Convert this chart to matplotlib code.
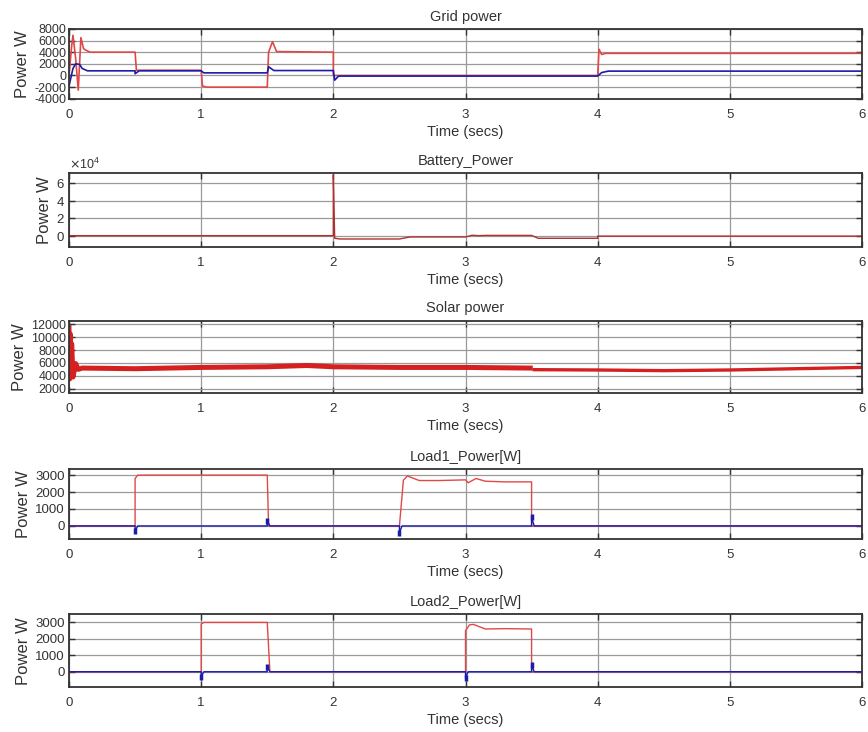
import matplotlib
matplotlib.use('Agg')
import matplotlib.pyplot as plt

plt.rcParams['font.family'] = ['Liberation Sans', 'DejaVu Sans']
plt.rcParams['axes.unicode_minus'] = False

# ---- data ----
grid_t_red = [0, 0.02, 0.03, 0.05, 0.07, 0.09, 0.11, 0.13, 0.16, 0.5, 0.51, 0.54, 1.0, 1.01, 1.04,
              1.5, 1.51, 1.54, 1.57, 2.0, 2.0, 4.0, 4.01, 4.03, 4.06, 6.0]
grid_p_red = [0, 5000, 6900, 3000, -2500, 6500, 4600, 4300, 4000, 4000, 900, 900, 900, -1800, -2000,
              -2000, 4000, 5800, 4100, 4000, 0, 0, 4500, 3600, 3800, 3800]
grid_t_blue = [0, 0.03, 0.05, 0.08, 0.1, 0.14, 0.5, 0.5, 0.53, 1.0, 1.02, 1.5, 1.51, 1.55,
               2.0, 2.01, 2.04, 4.0, 4.03, 4.08, 6.0]
grid_p_blue = [-1800, 1200, 2000, 1900, 1200, 800, 800, 300, 800, 800, 450, 450, 1500, 850,
               850, -800, -100, -100, 500, 750, 750]

batt_t = [0, 2.0, 2.0, 2.01, 2.05, 2.5, 2.58, 3.0, 3.05, 3.1, 3.15, 3.5, 3.55, 4.0, 4.0, 6.0]
batt_p = [0, 0, 70000, -3000, -3800, -3800, -1500, -1500, 500, 0, 300, 300, -3000, -3000, -500, -500]

solar_t_a = [0, 0.005, 0.01, 0.015, 0.02, 0.03, 0.05, 0.07, 0.1, 0.5, 1.0, 1.5, 1.8, 2.0, 2.5, 3.0, 3.49]
solar_p_a = [11500, 3500, 10500, 4200, 9000, 3800, 5900, 5000, 5200, 5100, 5300, 5400, 5600, 5400,
             5300, 5300, 5200]
solar_t_b = [3.52, 4.0, 4.5, 5.0, 5.5, 6.0]
solar_p_b = [4950, 4900, 4800, 4900, 5100, 5300]

load1_t_red = [0, 0.5, 0.5, 0.52, 1.5, 1.51, 2.5, 2.53, 2.56, 2.65, 2.8, 3.0, 3.02, 3.08, 3.15,
               3.3, 3.5, 3.5, 6.0]
load1_p_red = [0, 0, 2800, 3000, 3000, 0, 0, 2700, 2950, 2680, 2680, 2720, 2550, 2800, 2640,
               2600, 2600, 0, 0]
load1_t_blue = [0, 0.5, 0.5, 0.52, 1.5, 1.5, 1.52, 2.5, 2.5, 2.52, 3.5, 3.5, 3.52, 6.0]
load1_p_blue = [0, 0, -300, 0, 0, 300, 0, 0, -400, 0, 0, 500, 0, 0]

load2_t_red = [0, 1.0, 1.0, 1.02, 1.5, 1.52, 3.0, 3.0, 3.03, 3.06, 3.15, 3.3, 3.5, 3.5, 6.0]
load2_p_red = [0, 0, 2900, 3000, 3000, 0, 0, 2500, 2850, 2880, 2600, 2620, 2600, 0, 0]
load2_t_blue = [0, 1.0, 1.0, 1.02, 1.5, 1.5, 1.52, 3.0, 3.0, 3.02, 3.5, 3.5, 3.52, 6.0]
load2_p_blue = [0, 0, -300, 0, 0, 300, 0, 0, -400, 0, 0, 400, 0, 0]

RED = '#e04848'
DRED = '#d42020'
BLUE = '#1c1caa'
TXT = '#333333'

fig = plt.figure(figsize=(8.68, 7.32), dpi=100)
left, width = 0.0795, 0.9136
boxes = [(0.865, 0.0956), (0.662, 0.101), (0.463, 0.099), (0.263, 0.0965), (0.061, 0.0997)]
axes = [fig.add_axes([left, b, width, h]) for b, h in boxes]
titles = ['Grid power', 'Battery_Power', 'Solar power', 'Load1_Power[W]', 'Load2_Power[W]']

for ax, title in zip(axes, titles):
    ax.set_xlim(0, 6)
    ax.set_xticks(range(7))
    ax.set_title(title, fontsize=10.5, color=TXT, pad=6)
    ax.set_xlabel('Time (secs)', fontsize=10.5, color=TXT, labelpad=3)
    ax.set_ylabel('Power W', fontsize=12, color=TXT, labelpad=3)
    ax.grid(True, color='#9a9a9a', linewidth=0.9)
    ax.set_axisbelow(True)
    ax.tick_params(direction='in', top=True, right=True, labelsize=9.5,
                   colors=TXT, length=4, width=1)
    ax.tick_params(axis='x', pad=7)
    ax.tick_params(axis='y', pad=3)
    for s in ax.spines.values():
        s.set_color(TXT)
        s.set_linewidth(1.3)

# Grid power
ax = axes[0]
ax.plot(grid_t_red, grid_p_red, color=RED, linewidth=1.2)
ax.plot(grid_t_blue, grid_p_blue, color=BLUE, linewidth=1.2)
ax.set_ylim(-4000, 8000)
ax.set_yticks(range(-4000, 8001, 2000))
ax.tick_params(axis='y', labelsize=9, pad=2)

# Battery power
ax = axes[1]
ax.plot(batt_t, batt_p, color='#b03030', linewidth=1.0)
ax.set_ylim(-13500, 71500)
ax.set_yticks([0, 20000, 40000, 60000])
ax.ticklabel_format(axis='y', style='sci', scilimits=(4, 4), useMathText=True)
ax.yaxis.get_offset_text().set_fontsize(9)

# Solar power
ax = axes[2]
ax.plot(solar_t_a, solar_p_a, color=DRED, linewidth=3.6, solid_joinstyle='round')
ax.plot(solar_t_b, solar_p_b, color=DRED, linewidth=2.4)
ax.set_ylim(1300, 12600)
ax.set_yticks(range(2000, 12001, 2000))
ax.tick_params(axis='y', labelsize=9, pad=2)

# Loads
ax = axes[3]
ax.plot(load1_t_red, load1_p_red, color=RED, linewidth=1.0)
ax.plot(load1_t_blue, load1_p_blue, color=BLUE, linewidth=1.0)
ax.plot([t for t, p in zip(load1_t_blue, load1_p_blue) if p != 0],
        [p for p in load1_p_blue if p != 0], '|', color=BLUE, markersize=5, mew=2.5)
ax.set_ylim(-800, 3370)
ax.set_yticks([0, 1000, 2000, 3000])

ax = axes[4]
ax.plot(load2_t_red, load2_p_red, color=RED, linewidth=1.0)
ax.plot(load2_t_blue, load2_p_blue, color=BLUE, linewidth=1.0)
ax.plot([t for t, p in zip(load2_t_blue, load2_p_blue) if p != 0],
        [p for p in load2_p_blue if p != 0], '|', color=BLUE, markersize=5, mew=2.5)
ax.set_ylim(-950, 3490)
ax.set_yticks([0, 1000, 2000, 3000])

plt.savefig('out.png', dpi=100)
plt.close()
